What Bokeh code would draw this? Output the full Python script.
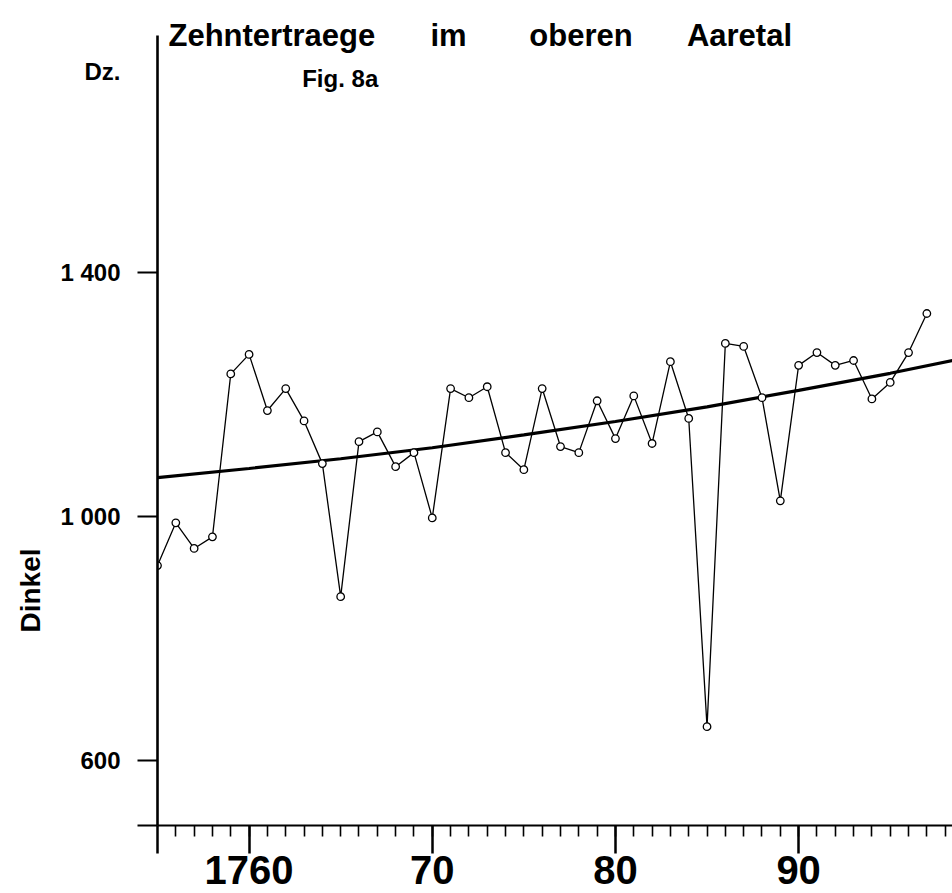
import math
from bokeh.plotting import figure
from bokeh.models import Label, FixedTicker, Range1d, ColumnDataSource, Title
from bokeh.embed import file_html
from bokeh.resources import INLINE

# ---- data ----
years = list(range(1755, 1798))
dinkel = [920, 990, 948, 967, 1234, 1266, 1174, 1210, 1157, 1087,
          869, 1123, 1139, 1082, 1105, 998, 1210, 1195, 1213, 1105,
          1077, 1210, 1115, 1105, 1190, 1128, 1198, 1120, 1254, 1161,
          656, 1284, 1279, 1195, 1026, 1248, 1269, 1248, 1256, 1193,
          1220, 1269, 1333]
trend_years = [1755, 1760, 1765, 1770, 1775, 1780, 1785, 1790, 1795, 1798.4]
trend_values = [1064, 1079, 1095, 1113, 1134, 1156, 1180, 1207, 1235, 1256]

x_ticks = [1755, 1760, 1770, 1780, 1790]
x_tick_labels = ["", "1760", "70", "80", "90"]
x_minor = list(range(1756, 1799))
y_tick_marks = [494, 600, 1000, 1400]
y_label_pos = [600, 1000, 1400, 1729.5]
y_labels = ["600", "1 000", "1 400", "Dz."]

title_words = ["Zehntertraege", "im", "oberen", "Aaretal"]
title_x = [1755.6, 1769.9, 1775.3, 1783.9]

FONT = "Liberation Sans"

p = figure(width=952, height=893, output_backend="svg", toolbar_location=None,
           x_range=Range1d(1755, 1798.4), y_range=Range1d(494, 1845.9),
           min_border_left=157, min_border_right=0, min_border_top=0,
           min_border_bottom=68)
p.frame_width = 795
p.frame_height = 825
p.outline_line_color = None
p.xgrid.visible = False
p.ygrid.visible = False
p.background_fill_color = "white"
p.border_fill_color = "white"

src = ColumnDataSource(dict(x=years, y=dinkel))
tsrc = ColumnDataSource(dict(x=trend_years, y=trend_values))

p.line("x", "y", source=tsrc, line_color="black", line_width=3.2)
p.line("x", "y", source=src, line_color="black", line_width=1.3)
p.scatter("x", "y", source=src, size=7.5, marker="circle",
          fill_color="white", line_color="black", line_width=1.3)

# x axis
xa = p.xaxis[0]
xa.ticker = FixedTicker(ticks=x_ticks, minor_ticks=x_minor)
xa.major_label_overrides = {t: l for t, l in zip(x_ticks, x_tick_labels)}
xa.axis_line_width = 2.2
xa.axis_line_color = "black"
xa.major_tick_line_width = 2.5
xa.minor_tick_line_width = 1.6
xa.major_tick_out = 28
xa.major_tick_in = 0
xa.minor_tick_out = 11
xa.minor_tick_in = 0
xa.major_label_standoff = 2
xa.major_label_text_font = FONT
xa.major_label_text_font_style = "bold"
xa.major_label_text_font_size = "40px"
xa.major_label_text_color = "black"

# y axis: tick marks drawn as minor ticks, labels on (invisible) major ticks
ya = p.yaxis[0]
ya.ticker = FixedTicker(ticks=y_label_pos, minor_ticks=y_tick_marks)
ya.major_label_overrides = {t: l for t, l in zip(y_label_pos, y_labels)}
ya.bounds = (494, 1788)
ya.axis_line_width = 2.6
ya.axis_line_color = "black"
ya.major_tick_line_color = None
ya.major_tick_out = 0
ya.major_tick_in = 0
ya.minor_tick_line_width = 2.2
ya.minor_tick_line_color = "black"
ya.minor_tick_out = 20
ya.minor_tick_in = 0
ya.major_label_standoff = 17
ya.major_label_text_font = FONT
ya.major_label_text_font_style = "bold"
ya.major_label_text_font_size = "24px"
ya.major_label_text_color = "black"

# "Dinkel" as a side title, placed low along the axis
p.add_layout(Title(text="Dinkel", align="left", offset=193, standoff=24,
                   text_font=FONT, text_font_style="bold",
                   text_font_size="28px", text_color="black"), "left")

for w, xx in zip(title_words, title_x):
    p.add_layout(Label(x=xx, y=1788.5, text=w, text_font=FONT,
                       text_font_style="bold", text_font_size="31px",
                       text_baseline="alphabetic", text_align="left",
                       text_color="black"))

p.add_layout(Label(x=1762.9, y=1718, text="Fig. 8a", text_font=FONT,
                   text_font_style="bold", text_font_size="24px",
                   text_baseline="alphabetic", text_color="black"))

open("out.html", "w").write(file_html(p, INLINE))
